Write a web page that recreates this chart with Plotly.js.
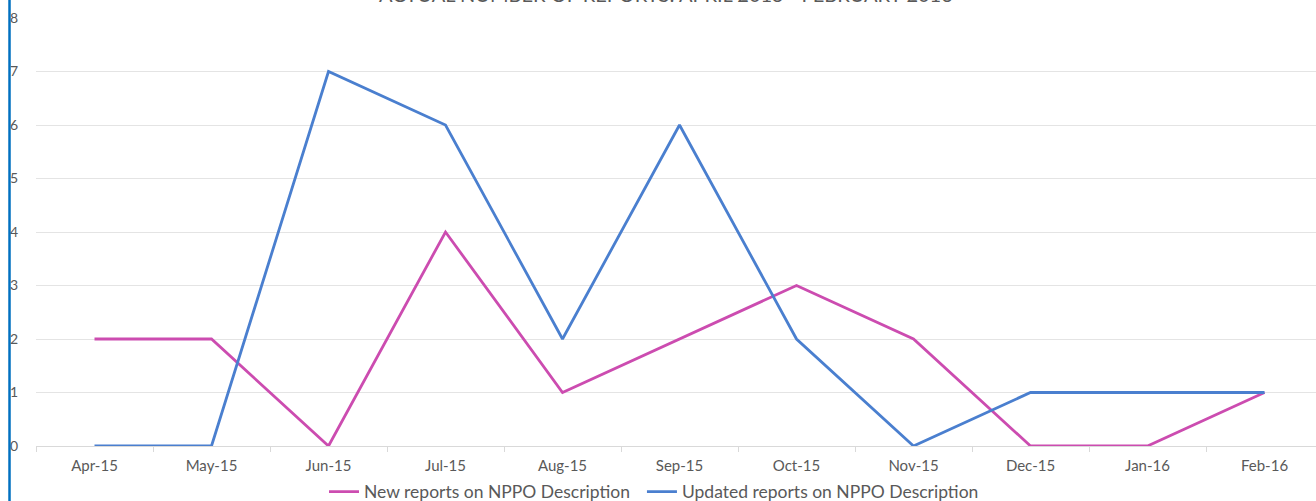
<!DOCTYPE html>
<html>
<head>
<meta charset="utf-8">
<script src="https://cdn.plot.ly/plotly-3.0.1.min.js"></script>
<style>html,body{margin:0;padding:0;background:#fff;overflow:hidden;}</style>
</head>
<body>
<div id="chart" style="width:1316px;height:501px;"></div>
<script>
var months = ["Apr-15","May-15","Jun-15","Jul-15","Aug-15","Sep-15","Oct-15","Nov-15","Dec-15","Jan-16","Feb-16"];
var newReports = [2,2,0,4,1,2,3,2,0,0,1];
var updatedReports = [0,0,7,6,2,6,2,0,1,1,1];
var seriesNames = ["New reports on NPPO Description","Updated reports on NPPO Description"];
var chartTitle = "ACTUAL NUMBER OF REPORTS: APRIL 2015 - FEBRUARY 2016";

var traces = [
  {x: months, y: newReports, name: seriesNames[0], type: "scatter", mode: "lines",
   legend: "legend", line: {color: "#CC4CB0", width: 2.8}},
  {x: months, y: updatedReports, name: seriesNames[1], type: "scatter", mode: "lines",
   legend: "legend2", line: {color: "#4A7FCF", width: 2.8}}
];

var legendStyle = function (xpos) {
  return {orientation: "h", x: xpos, xanchor: "left", yref: "paper", y: -0.107, yanchor: "middle",
          font: {size: 17.5, color: "#595959"}, itemwidth: 30, bgcolor: "rgba(0,0,0,0)"};
};

var layout = {
  width: 1316, height: 501,
  margin: {l: 36, r: 0, t: 18, b: 55, autoexpand: false},
  paper_bgcolor: "#fff", plot_bgcolor: "#fff",
  font: {family: "Lato, 'Open Sans', sans-serif", color: "#595959"},
  title: {text: chartTitle, font: {size: 20, color: "#595959"}, x: 0.506, xanchor: "center",
          yref: "container", y: 0.997, yanchor: "bottom"},
  xaxis: {type: "category", range: [-0.5, 10.44], showgrid: false, zeroline: false,
          showline: true, linecolor: "#D9D9D9", linewidth: 1,
          ticks: "outside", tickson: "boundaries", ticklen: 5, tickcolor: "#D9D9D9",
          ticklabelstandoff: 6,
          tickfont: {size: 15, color: "#595959"}, fixedrange: true},
  yaxis: {range: [0, 8], dtick: 1, showgrid: true, gridcolor: "#E4E4E4", gridwidth: 1,
          zeroline: false, showline: false, ticks: "", ticklabelstandoff: 17,
          tickfont: {size: 14, color: "#595959"}, fixedrange: true},
  showlegend: true,
  legend: legendStyle(0.225),
  legend2: legendStyle(0.4734),
  shapes: [{type: "line", xref: "paper", yref: "paper", x0: -0.0207, x1: -0.0207, y0: -0.2, y1: 1.1,
            line: {color: "#0070C0", width: 2.5}}]
};

Plotly.newPlot("chart", traces, layout, {displayModeBar: false, staticPlot: true});
</script>
</body>
</html>
